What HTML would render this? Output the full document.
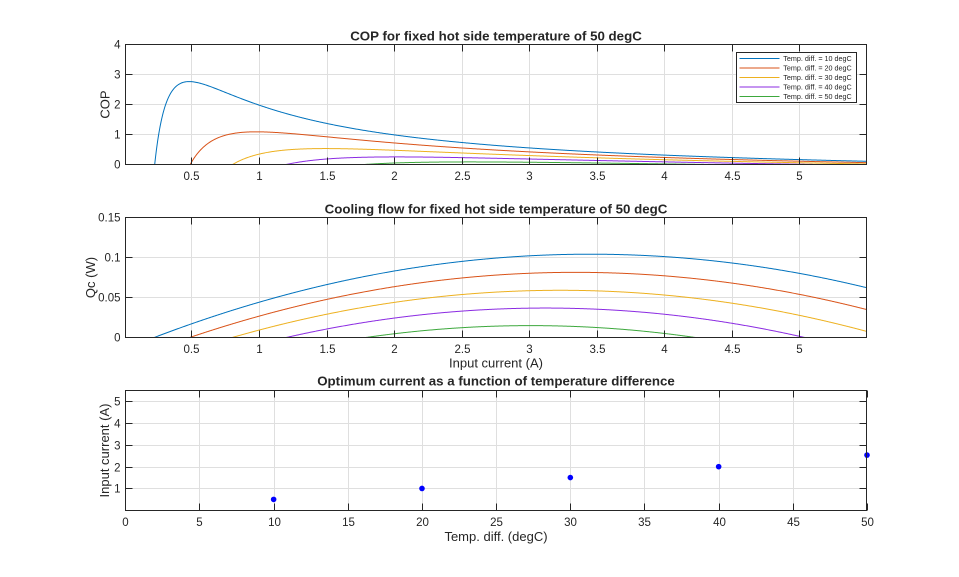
<!DOCTYPE html>
<html>
<head>
<meta charset="utf-8">
<style>
html,body{margin:0;padding:0;background:#fff;}
svg{display:block;}
text{font-family:"Liberation Sans",Arial,sans-serif;fill:#262626;}
.tk{font-size:11.5px;}
.lb{font-size:13px;}
.tt{font-size:13.3px;font-weight:bold;}
.lg{font-size:7.2px;}
.grid{stroke:#dfdfdf;stroke-width:1;}
.ax{stroke:#262626;stroke-width:1;fill:none;}
</style>
</head>
<body>
<svg id="s" width="959" height="577" viewBox="0 0 959 577" xmlns="http://www.w3.org/2000/svg">
<defs>
<clipPath id="c1"><rect x="125.5" y="44.5" width="741" height="120"/></clipPath>
<clipPath id="c2"><rect x="125.5" y="217.5" width="741" height="120"/></clipPath>
</defs>
<rect x="0" y="0" width="959" height="577" fill="#fff"/>
<g id="g1"></g>
<g id="g2"></g>
<g id="g3"></g>
<g id="curves1" clip-path="url(#c1)" fill="none" stroke-width="1"></g>
<g id="curves2" clip-path="url(#c2)" fill="none" stroke-width="1"></g>
<g id="pts"></g>
<g id="axes"></g>

<!-- Titles -->
<text class="tt" x="496" y="40.5" text-anchor="middle">COP for fixed hot side temperature of 50 degC</text>
<text class="tt" x="496" y="213.5" text-anchor="middle">Cooling flow for fixed hot side temperature of 50 degC</text>
<text class="tt" x="496" y="385.5" text-anchor="middle">Optimum current as a function of temperature difference</text>

<!-- Axis labels -->
<text class="lb" x="496" y="367.5" text-anchor="middle">Input current (A)</text>
<text class="lb" x="496" y="541" text-anchor="middle">Temp. diff. (degC)</text>
<text class="lb" transform="translate(109.5,104.5) rotate(-90)" text-anchor="middle">COP</text>
<text class="lb" transform="translate(95,277.5) rotate(-90)" text-anchor="middle">Qc (W)</text>
<text class="lb" transform="translate(109,450.5) rotate(-90)" text-anchor="middle">Input current (A)</text>

<!-- Legend -->
<g id="legend">
<rect x="736.5" y="52.5" width="120" height="50" fill="#fff" stroke="#262626" stroke-width="1"/>
<line x1="739.5" y1="58.5" x2="779.5" y2="58.5" stroke="#0072BD"/>
<line x1="739.5" y1="68" x2="779.5" y2="68" stroke="#D95319"/>
<line x1="739.5" y1="77.5" x2="779.5" y2="77.5" stroke="#EDB120"/>
<line x1="739.5" y1="87" x2="779.5" y2="87" stroke="#8B2BE2"/>
<line x1="739.5" y1="96.5" x2="779.5" y2="96.5" stroke="#3DA83D"/>
<text class="lg" x="783.3" y="61">Temp. diff. = 10 degC</text>
<text class="lg" x="783.3" y="70.5">Temp. diff. = 20 degC</text>
<text class="lg" x="783.3" y="80">Temp. diff. = 30 degC</text>
<text class="lg" x="783.3" y="89.5">Temp. diff. = 40 degC</text>
<text class="lg" x="783.3" y="99">Temp. diff. = 50 degC</text>
</g>
</svg>
<script>
(function(){
var NS="http://www.w3.org/2000/svg";
function el(parent,tag,attrs,txt){var e=document.createElementNS(NS,tag);for(var k in attrs)e.setAttribute(k,attrs[k]);if(txt!==undefined)e.textContent=txt;parent.appendChild(e);return e;}
var L=125.5,Rr=866.5,W=741;
var g1=document.getElementById('g1'),g2=document.getElementById('g2'),g3=document.getElementById('g3'),axes=document.getElementById('axes');
var svg=document.getElementById('s');
var legend=document.getElementById('legend');
function X12(I){return 125.3+(I-0.01)*(741.7/5.49);}
// axes definitions
var plots=[
 {top:44.5,bot:164.5,g:g1,xt:[0.5,1,1.5,2,2.5,3,3.5,4,4.5,5],xl:['0.5','1','1.5','2','2.5','3','3.5','4','4.5','5'],xf:X12,
  yt:[0,1,2,3,4],yl:['0','1','2','3','4'],yf:function(v){return 164.3-v*30;}},
 {top:217.5,bot:337.5,g:g2,xt:[0.5,1,1.5,2,2.5,3,3.5,4,4.5,5],xl:['0.5','1','1.5','2','2.5','3','3.5','4','4.5','5'],xf:X12,
  yt:[0,0.05,0.1,0.15],yl:['0','0.05','0.1','0.15'],yf:function(v){return 337.3-v*800;}},
 {top:390.5,bot:510.5,g:g3,xt:[0,5,10,15,20,25,30,35,40,45,50],xl:['0','5','10','15','20','25','30','35','40','45','50'],xf:function(t){return 125.3+t*14.834;},
  yt:[1,2,3,4,5],yl:['1','2','3','4','5'],yf:function(v){return 510.3-v*21.82;}}
];
plots.forEach(function(p){
 // grid
 p.xt.forEach(function(t){var x=Math.round(p.xf(t))+0.5; if(x>L+1&&x<Rr-1) el(p.g,'line',{x1:x,y1:p.top,x2:x,y2:p.bot,'class':'grid'});});
 p.yt.forEach(function(t){var y=Math.round(p.yf(t))+0.5; if(y>p.top+1&&y<p.bot-1) el(p.g,'line',{x1:L,y1:y,x2:Rr,y2:y,'class':'grid'});});
 // box
 el(axes,'rect',{x:L,y:p.top,width:W,height:p.bot-p.top,'class':'ax'});
 // ticks
 p.xt.forEach(function(t,i){var x=Math.round(p.xf(t))+0.5;
   el(axes,'line',{x1:x,y1:p.bot,x2:x,y2:p.bot-7,'class':'ax'});
   el(axes,'line',{x1:x,y1:p.top,x2:x,y2:p.top+7,'class':'ax'});
   el(axes,'text',{'class':'tk',x:x,y:p.bot+15.5,'text-anchor':'middle'},p.xl[i]);});
 p.yt.forEach(function(t,i){var y=Math.round(p.yf(t))+0.5;
   el(axes,'line',{x1:L,y1:y,x2:L+7,y2:y,'class':'ax'});
   el(axes,'line',{x1:Rr,y1:y,x2:Rr-7,y2:y,'class':'ax'});
   el(axes,'text',{'class':'tk',x:120.5,y:y+4,'text-anchor':'end'},p.yl[i]);});
});
// model
var Th=323.15,R=0.02,al=0.0002204,K=0.00152;
var cols=['#0072BD','#D95319','#EDB120','#8B2BE2','#3DA83D'];
var dTs=[10,20,30,40,50];
var c1=document.getElementById('curves1'),c2=document.getElementById('curves2');
dTs.forEach(function(dT,k){
 var Tc=Th-dT,d1='',d2='';
 for(var i=0;i<=1098;i++){
   var I=0.01+i*0.005;
   var Qc=al*I*Tc-0.5*I*I*R-K*dT;
   var P=al*I*dT+I*I*R;
   var cop=Qc/P; if(cop<-2)cop=-2;
   var x=X12(I);
   var y1=164.3-cop*30, y2=337.3-Qc*800;
   d1+=(i?'L':'M')+x.toFixed(2)+' '+y1.toFixed(2);
   d2+=(i?'L':'M')+x.toFixed(2)+' '+y2.toFixed(2);
 }
 el(c1,'path',{d:d1,stroke:cols[k]});
 el(c2,'path',{d:d2,stroke:cols[k]});
});
// points
var pts=document.getElementById('pts');
[[10,0.5],[20,1.0],[30,1.5],[40,2.0],[50,2.53]].forEach(function(p){
 el(pts,'circle',{cx:plots[2].xf(p[0]),cy:plots[2].yf(p[1]),r:2.8,fill:'#0000FF'});
});
// move legend on top
svg.appendChild(legend);
})();
</script>
</body>
</html>
